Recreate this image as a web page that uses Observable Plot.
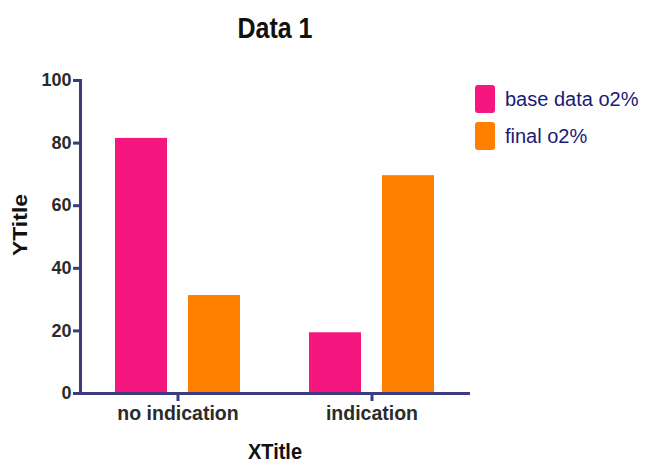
<!DOCTYPE html>
<html>
<head>
<meta charset="utf-8">
<script src="https://cdn.jsdelivr.net/npm/d3@7"></script>
<script src="https://cdn.jsdelivr.net/npm/@observablehq/plot@0.6"></script>
<style>
  body { margin: 0; background: #fff; font-family: "Liberation Sans", Arial, sans-serif; }
  #wrap { position: relative; width: 645px; height: 463px; }
  #title { position: absolute; left: 80px; width: 390px; top: 13px; text-align: center; font-weight: bold; font-size: 25px; line-height: 30px; color: #111; transform: scaleY(1.15); }
  #chart { position: absolute; left: 0; top: 60px; }
  #legend { position: absolute; left: 475px; top: 85px; }
  .item { display: flex; align-items: center; height: 28px; margin-bottom: 9px; }
  .sw { width: 20px; height: 28px; border-radius: 3px; margin-right: 10px; }
  .lab { font-size: 20px; color: #1a1a7a; }
  #xtitle { position: absolute; left: 80px; width: 390px; top: 439px; text-align: center; font-weight: bold; font-size: 20px; line-height: 24px; color: #111; transform: scaleY(1.12); }
  #ytitle { position: absolute; left: 20px; top: 225px; transform: translate(-50%, -50%) rotate(-90deg) scaleX(1.15); font-weight: bold; font-size: 20px; line-height: 24px; color: #111; white-space: nowrap; }
</style>
</head>
<body>
<div id="wrap">
  <div id="title">Data 1</div>
  <div id="chart"></div>
  <div id="legend"></div>
  <div id="xtitle">XTitle</div>
  <div id="ytitle">YTitle</div>
</div>
<script>
const categories = ["no indication", "indication"];
const seriesNames = ["base data o2%", "final o2%"];
const baseValues = [81.5, 19.4];
const finalValues = [31.3, 69.6];
const yTicks = [0, 20, 40, 60, 80, 100];
const colors = ["#f5177f", "#ff8000"];

const axisColor = "#3b3b7e";
const data = categories.flatMap((c, i) => [
  {category: c, series: seriesNames[0], value: baseValues[i]},
  {category: c, series: seriesNames[1], value: finalValues[i]}
]);

const chart = Plot.plot({
  width: 645,
  height: 403,
  marginLeft: 80,
  marginRight: 175,
  marginTop: 20,
  marginBottom: 70,
  style: {fontFamily: "Liberation Sans, Arial, sans-serif", background: "white"},
  x: {domain: categories, paddingInner: 0.354, paddingOuter: 0.179},
  y: {domain: [0, 100]},
  color: {domain: seriesNames, range: colors},
  marks: [
    Plot.barY(data.filter(d => d.series === seriesNames[0]), {x: "category", y: "value", fill: "series", insetLeft: 0, insetRight: 73}),
    Plot.barY(data.filter(d => d.series === seriesNames[1]), {x: "category", y: "value", fill: "series", insetLeft: 73, insetRight: 0}),
    Plot.frame({anchor: "left", stroke: axisColor, strokeWidth: 3}),
    Plot.ruleY([0], {stroke: axisColor, strokeWidth: 3}),
    Plot.axisY({ticks: yTicks, tickSize: 7, tickPadding: 2, stroke: axisColor, strokeWidth: 3, fill: "#2b2b2b", fontSize: 18, fontWeight: "bold", label: null}),
    Plot.axisX({tickSize: 8, tickPadding: 5, stroke: axisColor, strokeWidth: 3, fill: "#2b2b2b", fontSize: 19.5, fontWeight: "bold", label: null})
  ]
});
document.getElementById("chart").appendChild(chart);

const legend = document.getElementById("legend");
seriesNames.forEach((s, i) => {
  const item = document.createElement("div");
  item.className = "item";
  item.innerHTML = `<div class="sw" style="background:${colors[i]}"></div><div class="lab">${s}</div>`;
  legend.appendChild(item);
});
</script>
</body>
</html>
